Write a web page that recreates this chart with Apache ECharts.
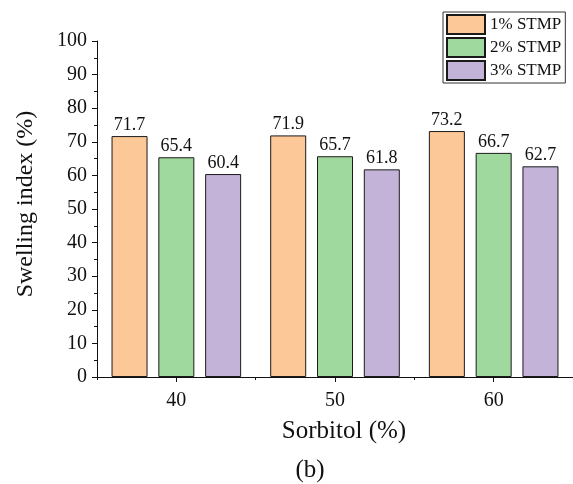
<!DOCTYPE html>
<html>
<head>
<meta charset="utf-8">
<script src="https://cdn.jsdelivr.net/npm/echarts@6/dist/echarts.min.js"></script>
<style>
  html, body { margin: 0; padding: 0; background: #fff; overflow: hidden; }
  #chart { width: 573px; height: 484px; }
</style>
</head>
<body>
<div id="chart"></div>
<script>
// Sorbitol content (%) on the x axis
const categories = ['40', '50', '60'];
// Swelling index (%) per STMP level
const stmp1 = [71.7, 71.9, 73.2];
const stmp2 = [65.4, 65.7, 66.7];
const stmp3 = [60.4, 61.8, 62.7];
const seriesNames = ['1% STMP', '2% STMP', '3% STMP'];
const seriesColors = ['#FDC897', '#A0D99D', '#C3B3D8'];

const FONT = "'Liberation Serif', 'Times New Roman', serif";
const chart = echarts.init(document.getElementById('chart'), null, { renderer: 'canvas' });

const gridLeft = 97, gridTop = 41, gridH = 336, gridW = 482;

function barSeries(name, data, color) {
  return {
    name: name,
    type: 'bar',
    data: data,
    barWidth: 36,
    barGap: '30%',
    itemStyle: { color: color, borderColor: '#1a1a1a', borderWidth: 1 },
    label: {
      show: true,
      position: 'top',
      distance: 2,
      color: '#111',
      fontFamily: FONT,
      fontSize: 18
    }
  };
}

chart.setOption({
  backgroundColor: '#ffffff',
  animation: false,
  grid: { left: gridLeft, top: gridTop, width: gridW, height: gridH, containLabel: false },
  legend: {
    orient: 'vertical',
    left: 443,
    top: 12,
    padding: [2, 4, 2, 3],
    itemGap: 2,
    itemWidth: 38,
    itemHeight: 19,
    borderColor: '#333',
    borderWidth: 1,
    backgroundColor: '#fff',
    icon: 'rect',
    textStyle: { fontFamily: FONT, fontSize: 17, lineHeight: 19, color: '#111', padding: [0, 0, 0, 0] },
    data: seriesNames
  },
  xAxis: [
    {
      type: 'category',
      data: categories,
      axisLine: { show: true, lineStyle: { color: '#111', width: 1 } },
      axisTick: { show: true, alignWithLabel: true, length: 5, lineStyle: { color: '#111' } },
      axisLabel: { color: '#111', fontFamily: FONT, fontSize: 20, margin: 14 },
      splitLine: { show: false }
    },
    {
      // boundary ticks between groups
      type: 'category',
      data: categories,
      position: 'bottom',
      axisLine: { show: false },
      axisTick: { show: true, alignWithLabel: false, length: 3, lineStyle: { color: '#111' } },
      axisLabel: { show: false },
      splitLine: { show: false }
    }
  ],
  yAxis: {
    type: 'value',
    min: 0,
    max: 100,
    interval: 10,
    axisLine: { show: true, lineStyle: { color: '#111', width: 1 } },
    axisTick: { show: true, length: 5, lineStyle: { color: '#111' } },
    minorTick: { show: true, splitNumber: 2, length: 3, lineStyle: { color: '#111' } },
    axisLabel: { color: '#111', fontFamily: FONT, fontSize: 20, margin: 10 },
    splitLine: { show: false }
  },
  graphic: [
    {
      type: 'text',
      x: 26,
      y: 204,
      rotation: Math.PI / 2,
      style: {
        text: 'Swelling index (%)',
        font: '24px ' + FONT,
        fill: '#111',
        align: 'center',
        verticalAlign: 'middle',
        textAlign: 'center',
        textVerticalAlign: 'middle'
      }
    },
    {
      type: 'text',
      x: 344,
      y: 431,
      style: {
        text: 'Sorbitol (%)',
        font: '25px ' + FONT,
        fill: '#111',
        align: 'center',
        verticalAlign: 'middle',
        textAlign: 'center',
        textVerticalAlign: 'middle'
      }
    },
    {
      type: 'text',
      x: 310,
      y: 470,
      style: {
        text: '(b)',
        font: '25px ' + FONT,
        fill: '#111',
        align: 'center',
        verticalAlign: 'middle',
        textAlign: 'center',
        textVerticalAlign: 'middle'
      }
    }
  ],
  series: [
    barSeries(seriesNames[0], stmp1, seriesColors[0]),
    barSeries(seriesNames[1], stmp2, seriesColors[1]),
    barSeries(seriesNames[2], stmp3, seriesColors[2])
  ]
});
</script>
</body>
</html>
